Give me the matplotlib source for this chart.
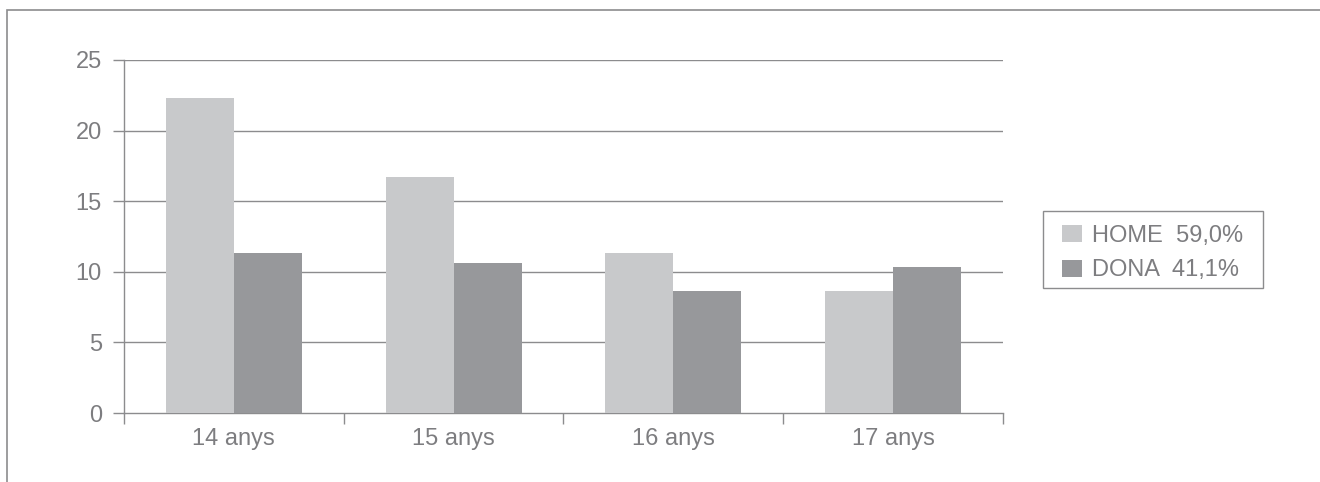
import matplotlib
matplotlib.use("Agg")
import matplotlib.pyplot as plt
import matplotlib.patches as mpatches
import numpy as np

plt.rcParams['font.family'] = ['Liberation Sans', 'DejaVu Sans']

categories = ["14 anys", "15 anys", "16 anys", "17 anys"]
home = [22.3, 16.7, 11.35, 8.65]
dona = [11.35, 10.65, 8.65, 10.35]
series_labels = ["HOME  59,0%", "DONA  41,1%"]
yticks = [0, 5, 10, 15, 20, 25]

c_home = "#c8c9cb"
c_dona = "#97989b"
grid_c = "#8c8c8e"
text_c = "#7d7d80"
fs = 17

W, H = 1320, 482
fig = plt.figure(figsize=(W/100, H/100), dpi=100)
ax = fig.add_axes([124/W, 1-413/H, (1003-124)/W, (413-60)/H])

x = np.arange(len(categories))
w = 0.31
ax.bar(x - w/2, home, width=w, color=c_home, label=series_labels[0], zorder=3)
ax.bar(x + w/2, dona, width=w, color=c_dona, label=series_labels[1], zorder=3)

ax.set_xlim(-0.5, len(categories) - 0.5)
ax.set_ylim(0, 25)
ax.set_yticks(yticks)
ax.set_yticklabels([str(v) for v in yticks])
for v in yticks[1:]:
    ax.axhline(v, color=grid_c, lw=1.0, zorder=1)

ax.set_xticks(np.arange(-0.5, len(categories)), minor=False)
ax.set_xticklabels([])
ax.set_xticks(x, minor=True)
ax.set_xticklabels(categories, minor=True)
ax.tick_params(axis='x', which='minor', length=0, pad=11, labelsize=fs, labelcolor=text_c)
ax.tick_params(axis='x', which='major', length=8, width=1.0, color=grid_c, direction='out')
ax.tick_params(axis='y', length=8, width=1.0, color=grid_c, direction='out', pad=8,
               labelsize=fs, labelcolor=text_c)

for s in ['top', 'right']:
    ax.spines[s].set_visible(False)
for s in ['left', 'bottom']:
    ax.spines[s].set_color(grid_c)
    ax.spines[s].set_linewidth(1.0)

leg = ax.legend(loc='center left', bbox_to_anchor=(1050/W, 1-253/H),
                bbox_transform=fig.transFigure, frameon=False,
                fontsize=fs, handlelength=0.85, handleheight=0.72, handletextpad=0.42,
                borderpad=0.5, labelspacing=0.55, borderaxespad=0)
for t in leg.get_texts():
    t.set_color(text_c)

# legend frame box
fig.add_artist(mpatches.Rectangle((1043/W, 1-288/H), (1263-1043)/W, (288-211)/H,
                                  transform=fig.transFigure, fill=False,
                                  edgecolor=grid_c, lw=1.0, clip_on=False))

# outer border
fig.add_artist(mpatches.Rectangle((7/W, -0.2), 1.2, 1.2 - 10/H, transform=fig.transFigure,
                                  fill=False, edgecolor=grid_c, lw=1.2, clip_on=False))

fig.savefig("out.png", dpi=100)
